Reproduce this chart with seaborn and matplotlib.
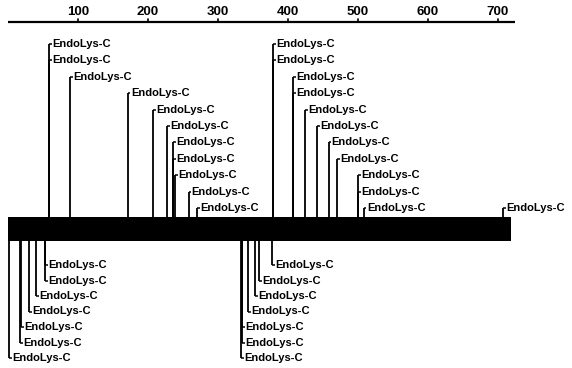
import matplotlib
matplotlib.use("Agg")
import matplotlib.pyplot as plt
import seaborn as sns
import pandas as pd

# ---- data ----
seq_length = 718
ruler_end = 724
ruler_ticks = [100, 200, 300, 400, 500, 600, 700]
enzyme = "EndoLys-C"

top_positions = [59, 59, 89, 171, 207, 227, 236, 236, 239, 258, 270,
                 379, 379, 407, 407, 424, 441, 458, 470, 500, 500, 508,
                 707]
top_levels = [1, 2, 3, 4, 5, 6, 7, 8, 9, 10, 11,
              1, 2, 3, 4, 5, 6, 7, 8, 9, 10, 11,
              11]

bottom_positions = [53, 53, 40, 30, 19, 17, 1,
                    377, 359, 353, 343, 335, 335, 333]
bottom_levels = [1, 2, 3, 4, 5, 6, 7,
                 1, 2, 3, 4, 5, 6, 7]

sites = pd.DataFrame({
    "position": top_positions + bottom_positions,
    "level": top_levels + bottom_levels,
    "side": ["top"] * len(top_positions) + ["bottom"] * len(bottom_positions),
    "enzyme": enzyme,
})

# ---- layout (pixel-like y units, inverted) ----
W, H = 572, 368
px_per_unit = 0.70
x0_px = 8
bar_top, bar_bot = 217, 241
ruler_y = 22
top_row0, top_step = 44, 16.4
bot_row0, bot_step = 265, 15.5
hook = 4.0  # in sequence units

sns.set_theme(style="white")
plt.rcParams["font.family"] = ["Liberation Sans", "DejaVu Sans"]

fig = plt.figure(figsize=(W / 100, H / 100), dpi=100)
ax = fig.add_axes([0, 0, 1, 1])
ax.set_xlim(-x0_px / px_per_unit, (W - x0_px) / px_per_unit)
ax.set_ylim(H, 0)
ax.axis("off")

# ruler
ax.plot([0, ruler_end], [ruler_y, ruler_y], color="black", lw=1.6, solid_capstyle="butt")
for t in ruler_ticks:
    ax.plot([t, t], [ruler_y, ruler_y - 3], color="black", lw=1.2)
    ax.text(t, ruler_y - 4, str(t), ha="center", va="bottom",
            fontsize=9.5, fontweight="bold", color="black")

# black bar (the sequence)
ax.fill_between([0, seq_length], bar_top, bar_bot, color="black", lw=0)

# sites
for _, r in sites.iterrows():
    x = r["position"]
    if r["side"] == "top":
        y = top_row0 + (r["level"] - 1) * top_step
        ax.plot([x, x], [bar_top, y], color="black", lw=1.3, solid_capstyle="butt")
    else:
        y = bot_row0 + (r["level"] - 1) * bot_step
        ax.plot([x, x], [bar_bot, y], color="black", lw=1.3, solid_capstyle="butt")
    ax.plot([x, x + hook], [y, y], color="black", lw=1.1, solid_capstyle="butt")
    ax.text(x + hook + 0.5, y, r["enzyme"], ha="left", va="center",
            fontsize=8, fontweight="bold", color="black")

fig.savefig("out.png", dpi=100)
